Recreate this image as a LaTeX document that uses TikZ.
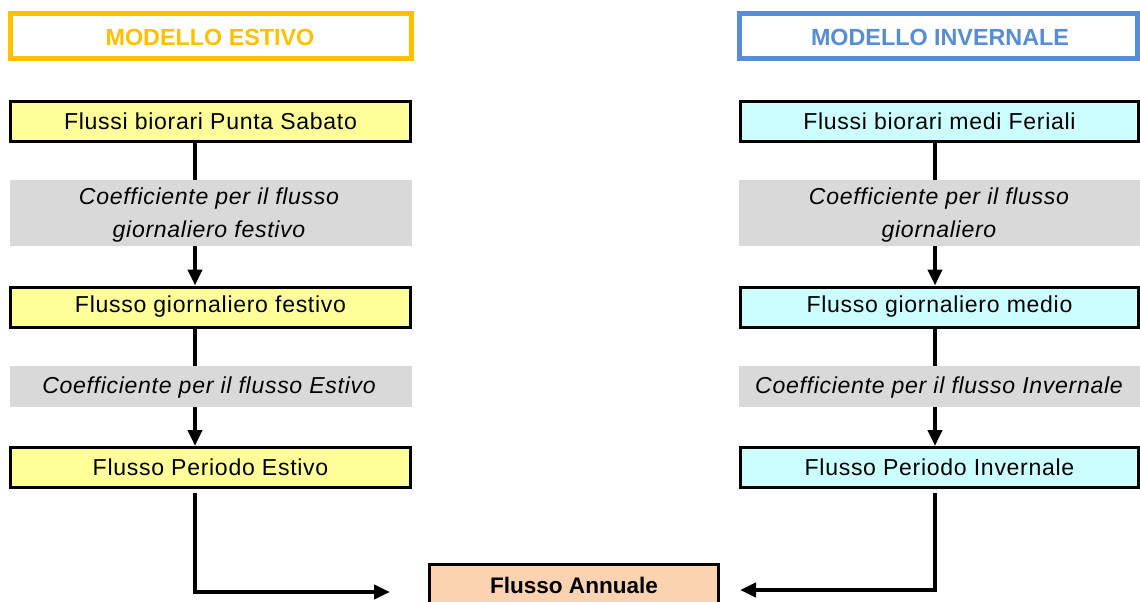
\documentclass[tikz,border=0pt]{standalone}
\usepackage{fontspec}
\setmainfont{Liberation Sans}
\newfontfamily\boxfont{Liberation Sans}[LetterSpace=3.0]
\usetikzlibrary{arrows.meta}

\definecolor{estivo}{HTML}{FFC000}
\definecolor{invernale}{HTML}{558ED5}
\definecolor{giallo}{HTML}{FFFF99}
\definecolor{ciano}{HTML}{CCFFFF}
\definecolor{grigio}{HTML}{D9D9D9}
\definecolor{pesca}{HTML}{FBD3B1}

\tikzset{
  header/.style={draw, line width=3.75pt, fill=white, minimum height=45*0.75pt,
    inner sep=0pt, font=\fontsize{17.5}{20}\selectfont\bfseries},
  stepbox/.style={draw=black, line width=2.25pt, minimum height=40*0.75pt,
    minimum width=398*0.75pt, inner sep=0pt, font=\boxfont\fontsize{17.3}{20}\selectfont},
  band/.style={fill=grigio, inner sep=0pt, minimum width=402*0.75pt},
  coeff/.style={inner sep=0pt, align=center,
    font=\boxfont\itshape\fontsize{17.3}{24.75}\selectfont},
  arr/.style={line width=3pt, -{Triangle[length=16*0.75pt, width=14*0.75pt]}},
}

\begin{document}
\begin{tikzpicture}[x=0.75pt, y=-0.75pt]
\useasboundingbox (0,0) rectangle (1140,601);

% column headers
\node[header, draw=estivo, text=estivo, minimum width=401*0.75pt] (hE) at (211,36) {};
\node[text=estivo, font=\fontsize{17.5}{20}\selectfont\bfseries] (hEt) at (210,37.5) {MODELLO ESTIVO};
\node[header, draw=invernale, text=invernale, minimum width=398*0.75pt] (hI) at (938.5,36) {};
\node[text=invernale, font=\fontsize{17.5}{20}\selectfont\bfseries] (hIt) at (940,37.5) {MODELLO INVERNALE};

% summer chain
\node[stepbox, fill=giallo, minimum width=400*0.75pt] (e1) at (210.5,121.5) {Flussi biorari Punta Sabato};
\node[stepbox, fill=giallo, minimum width=400*0.75pt] (e2) at (210.5,307) {Flusso giornaliero festivo};
\node[stepbox, fill=giallo, minimum width=400*0.75pt] (e3) at (210.5,467.5) {Flusso Periodo Estivo};

% winter chain
\node[stepbox, fill=ciano] (i1) at (939.5,121.5) {Flussi biorari medi Feriali};
\node[stepbox, fill=ciano] (i2) at (939.5,307) {Flusso giornaliero medio};
\node[stepbox, fill=ciano] (i3) at (939.5,467.5) {Flusso Periodo Invernale};

% annual total
\node[draw=black, line width=2.25pt, fill=pesca, minimum width=289*0.75pt,
  minimum height=42*0.75pt, inner sep=0pt,
  font=\fontsize{16.9}{20}\selectfont\bfseries] (ann) at (574,585) {Flusso Annuale};

% connector guide points
\coordinate (lx) at (195,0);
\coordinate (rx) at (935,0);
\coordinate (le) at (390,592);
\coordinate (re) at (740,590);

% vertical arrows
\draw[arr] (e1.south -| lx) -- (e2.north -| lx);
\draw[arr] (e2.south -| lx) -- (e3.north -| lx);
\draw[arr] (i1.south -| rx) -- (i2.north -| rx);
\draw[arr] (i2.south -| rx) -- (i3.north -| rx);

% arrows to the annual total
\draw[arr] ([yshift=-3pt]e3.south -| lx) |- (le);
\draw[arr] ([yshift=-3pt]i3.south -| rx) |- (re);

% coefficient bands (over the arrows)
\node[band, minimum height=66*0.75pt] (c1) at (211,213) {};
\node[coeff] (c1t) at (209,215) {Coefficiente per il flusso\\giornaliero festivo};
\node[band, minimum height=41*0.75pt] (c2) at (211,386.5) {};
\node[coeff] (c2t) at (209,387.5) {Coefficiente per il flusso Estivo};
\node[band, minimum height=66*0.75pt] (c3) at (940,213) {};
\node[coeff] (c3t) at (939,215) {Coefficiente per il flusso\\giornaliero};
\node[band, minimum height=41*0.75pt] (c4) at (940,386.5) {};
\node[coeff] (c4t) at (939,387.5) {Coefficiente per il flusso Invernale};
\end{tikzpicture}
\end{document}
